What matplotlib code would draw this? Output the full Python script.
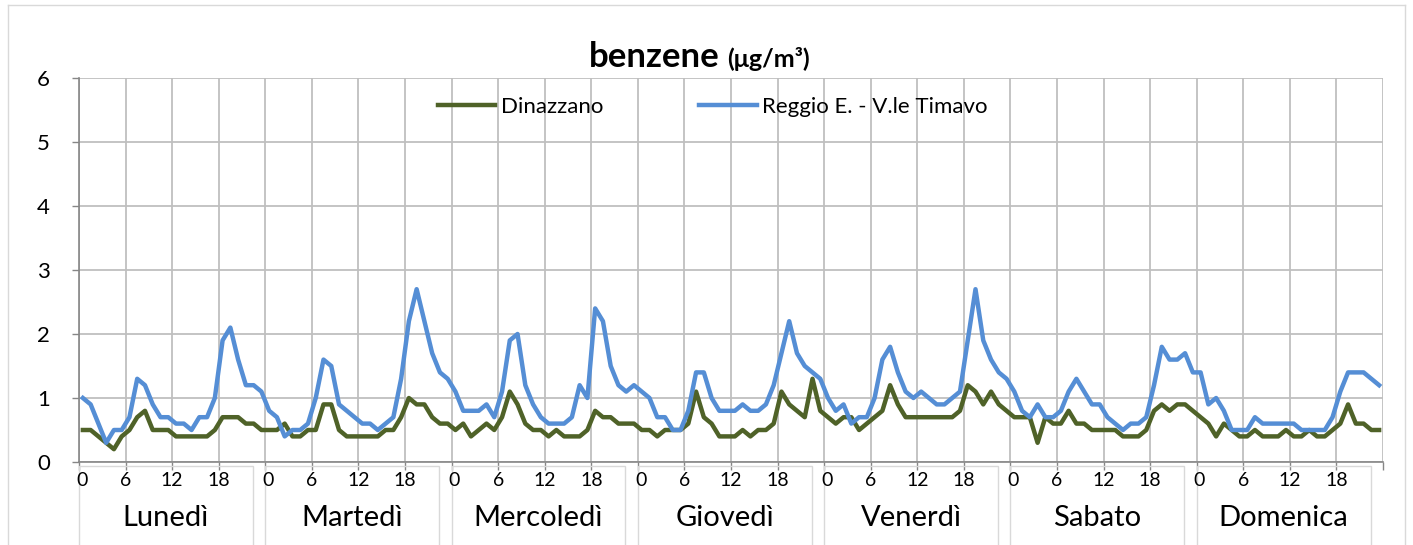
import matplotlib.pyplot as plt
from matplotlib.patches import Rectangle
import numpy as np

plt.rcParams['font.family'] = ['Lato', 'DejaVu Sans']

giorni = ['Lunedì', 'Martedì', 'Mercoledì', 'Giovedì', 'Venerdì', 'Sabato', 'Domenica']
ore_etichette = ['0', '6', '12', '18']

# Dinazzano, 24 valori orari per giorno
dinazzano = [
    0.5, 0.5, 0.4, 0.3, 0.2, 0.4, 0.5, 0.7, 0.8, 0.5, 0.5, 0.5, 0.4, 0.4, 0.4, 0.4, 0.4, 0.5, 0.7, 0.7, 0.7, 0.6, 0.6, 0.5,
    0.5, 0.5, 0.6, 0.4, 0.4, 0.5, 0.5, 0.9, 0.9, 0.5, 0.4, 0.4, 0.4, 0.4, 0.4, 0.5, 0.5, 0.7, 1.0, 0.9, 0.9, 0.7, 0.6, 0.6,
    0.5, 0.6, 0.4, 0.5, 0.6, 0.5, 0.7, 1.1, 0.9, 0.6, 0.5, 0.5, 0.4, 0.5, 0.4, 0.4, 0.4, 0.5, 0.8, 0.7, 0.7, 0.6, 0.6, 0.6,
    0.5, 0.5, 0.4, 0.5, 0.5, 0.5, 0.6, 1.1, 0.7, 0.6, 0.4, 0.4, 0.4, 0.5, 0.4, 0.5, 0.5, 0.6, 1.1, 0.9, 0.8, 0.7, 1.3, 0.8,
    0.7, 0.6, 0.7, 0.7, 0.5, 0.6, 0.7, 0.8, 1.2, 0.9, 0.7, 0.7, 0.7, 0.7, 0.7, 0.7, 0.7, 0.8, 1.2, 1.1, 0.9, 1.1, 0.9, 0.8,
    0.7, 0.7, 0.7, 0.3, 0.7, 0.6, 0.6, 0.8, 0.6, 0.6, 0.5, 0.5, 0.5, 0.5, 0.4, 0.4, 0.4, 0.5, 0.8, 0.9, 0.8, 0.9, 0.9, 0.8,
    0.7, 0.6, 0.4, 0.6, 0.5, 0.4, 0.4, 0.5, 0.4, 0.4, 0.4, 0.5, 0.4, 0.4, 0.5, 0.4, 0.4, 0.5, 0.6, 0.9, 0.6, 0.6, 0.5, 0.5,
]

# Reggio E. - V.le Timavo
reggio = [
    1.0, 0.9, 0.6, 0.3, 0.5, 0.5, 0.7, 1.3, 1.2, 0.9, 0.7, 0.7, 0.6, 0.6, 0.5, 0.7, 0.7, 1.0, 1.9, 2.1, 1.6, 1.2, 1.2, 1.1,
    0.8, 0.7, 0.4, 0.5, 0.5, 0.6, 1.0, 1.6, 1.5, 0.9, 0.8, 0.7, 0.6, 0.6, 0.5, 0.6, 0.7, 1.3, 2.2, 2.7, 2.2, 1.7, 1.4, 1.3,
    1.1, 0.8, 0.8, 0.8, 0.9, 0.7, 1.1, 1.9, 2.0, 1.2, 0.9, 0.7, 0.6, 0.6, 0.6, 0.7, 1.2, 1.0, 2.4, 2.2, 1.5, 1.2, 1.1, 1.2,
    1.1, 1.0, 0.7, 0.7, 0.5, 0.5, 0.8, 1.4, 1.4, 1.0, 0.8, 0.8, 0.8, 0.9, 0.8, 0.8, 0.9, 1.2, 1.7, 2.2, 1.7, 1.5, 1.4, 1.3,
    1.0, 0.8, 0.9, 0.6, 0.7, 0.7, 1.0, 1.6, 1.8, 1.4, 1.1, 1.0, 1.1, 1.0, 0.9, 0.9, 1.0, 1.1, 1.9, 2.7, 1.9, 1.6, 1.4, 1.3,
    1.1, 0.8, 0.7, 0.9, 0.7, 0.7, 0.8, 1.1, 1.3, 1.1, 0.9, 0.9, 0.7, 0.6, 0.5, 0.6, 0.6, 0.7, 1.2, 1.8, 1.6, 1.6, 1.7, 1.4,
    1.4, 0.9, 1.0, 0.8, 0.5, 0.5, 0.5, 0.7, 0.6, 0.6, 0.6, 0.6, 0.6, 0.5, 0.5, 0.5, 0.5, 0.7, 1.1, 1.4, 1.4, 1.4, 1.3, 1.2,
]

W, H = 1413, 545
fig = plt.figure(figsize=(W / 100, H / 100), dpi=100)
ax = fig.add_axes([79 / W, (H - 462) / H, (1383 - 79) / W, 384 / H])

x = np.arange(len(dinazzano))
ax.plot(x, dinazzano, color='#4F6228', lw=3.2, label='Dinazzano', zorder=3)
ax.plot(x, reggio, color='#558ED5', lw=3.2, label='Reggio E. - V.le Timavo', zorder=4)

ax.set_xlim(-0.5, len(x) - 0.5)
ax.set_ylim(0, 6)
ax.set_yticks(range(7))
ax.tick_params(axis='y', labelsize=16, length=5, width=1, color='#868686', pad=16)

# griglia verticale ogni 6 ore
pos = [d * 24 + h - 0.5 for d in range(len(giorni)) for h in (0, 6, 12, 18)] + [len(x) - 0.5]
ax.set_xticks(pos)
ax.set_xticklabels([])
ax.tick_params(axis='x', length=6, width=1, color='#868686')
ax.grid(True, color='#BFBFBF', lw=1.3)
ax.set_axisbelow(True)

for s in ['top', 'right']:
    ax.spines[s].set_visible(False)
for s in ['left', 'bottom']:
    ax.spines[s].set_color('#868686')
    ax.spines[s].set_linewidth(1.2)

tr = ax.get_xaxis_transform()
for d, g in enumerate(giorni):
    for k, lab in enumerate(ore_etichette):
        xp = d * 24 + k * 6 - 0.5 + (0.35 if k == 0 else 0)
        ax.text(xp, -0.048, lab, transform=tr, ha='center', va='center', fontsize=14, clip_on=False)
    ax.add_patch(Rectangle((d * 24 - 0.5, -0.225), 22.4, 0.215, transform=tr, fill=False,
                           edgecolor='#D9D9D9', lw=1, clip_on=False))
    ax.text(d * 24 + 10.7, -0.146, g, transform=tr, ha='center', va='center', fontsize=21, clip_on=False)

ax.legend(loc='center', bbox_to_anchor=(0.486, 0.925), ncol=2, frameon=False, fontsize=16,
          handlelength=2.6, columnspacing=4.3, handletextpad=0.25)

fig.text(720 / W, (H - 57) / H, 'benzene', ha='right', va='center', fontsize=25, fontweight='bold')
fig.text(727 / W, (H - 59) / H, '(μg/m³)', ha='left', va='center', fontsize=18, fontweight='bold')

# bordo esterno del grafico
for xs, ys in [([8, 8], [5, 560]), ([8, 1405], [5, 5]), ([1405, 1405], [5, 560])]:
    fig.add_artist(plt.Line2D([v / W for v in xs], [(H - v) / H for v in ys], color='#D9D9D9', lw=1))

fig.savefig('out.png', dpi=100)
